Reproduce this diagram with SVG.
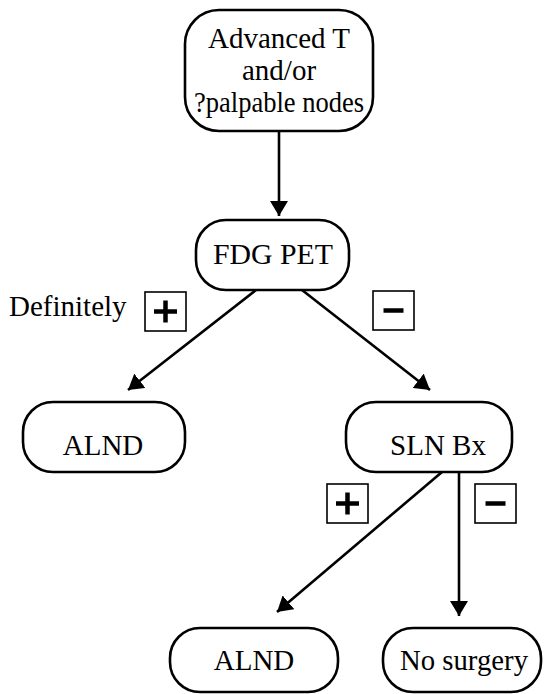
<svg xmlns="http://www.w3.org/2000/svg" width="546" height="694" viewBox="0 0 546 694">
<defs>
<style>
.box{fill:#fff;stroke:#000;stroke-width:2.6}
.sign{fill:#fff;stroke:#000;stroke-width:1.6}
.mark{stroke:#000;stroke-width:4.5;fill:none}
.edge{stroke:#000;stroke-width:2.6;fill:none}
</style>
<marker id="ah" viewBox="0 0 15 18" refX="15" refY="9" markerWidth="15" markerHeight="18" markerUnits="userSpaceOnUse" orient="auto">
<path d="M0,0 L15,9 L0,18 z" fill="#000"/>
</marker>
</defs>
<rect width="546" height="694" fill="#fff"/>
<g id="connectors">
<line class="edge" x1="279" y1="131" x2="279" y2="216" marker-end="url(#ah)"/>
<line class="edge" x1="256" y1="290" x2="128" y2="390" marker-end="url(#ah)"/>
<line class="edge" x1="302" y1="290" x2="430" y2="390" marker-end="url(#ah)"/>
<line class="edge" x1="442" y1="472" x2="277" y2="612" marker-end="url(#ah)"/>
<line class="edge" x1="459" y1="472" x2="459" y2="616" marker-end="url(#ah)"/>
</g>
<g font-family="Liberation Serif, Times New Roman, serif" font-size="29" fill="#000">
<g id="node-advanced">
<rect class="box" x="185" y="10" width="188" height="121" rx="34"/>
<text text-anchor="middle" x="279" y="48">Advanced T</text>
<text text-anchor="middle" x="279" y="80">and/or</text>
<text text-anchor="middle" x="279" y="112" textLength="170" lengthAdjust="spacingAndGlyphs">?palpable nodes</text>
</g>
<g id="node-fdgpet">
<rect class="box" x="196" y="220" width="153" height="70" rx="30"/>
<text text-anchor="middle" x="273" y="264" textLength="120" lengthAdjust="spacingAndGlyphs">FDG PET</text>
</g>
<g id="label-definitely">
<text x="9" y="316">Definitely</text>
<rect class="sign" x="145" y="292" width="41" height="39"/>
<path class="mark" d="M154,311.5 H177 M165.5,300.5 V322.5"/>
</g>
<g id="label-minus1">
<rect class="sign" x="373" y="291" width="41" height="39"/>
<path class="mark" d="M383.5,310.5 H403.5"/>
</g>
<g id="node-alnd1">
<rect class="box" x="23" y="402" width="162" height="70" rx="30"/>
<text text-anchor="middle" x="103" y="455">ALND</text>
</g>
<g id="node-slnbx">
<rect class="box" x="346" y="402" width="166" height="70" rx="30"/>
<text text-anchor="middle" x="438" y="455">SLN Bx</text>
</g>
<g id="label-plus2">
<rect class="sign" x="327" y="484" width="41" height="39"/>
<path class="mark" d="M336,503.5 H359 M347.5,492.5 V514.5"/>
</g>
<g id="label-minus2">
<rect class="sign" x="475" y="484" width="41" height="39"/>
<path class="mark" d="M485.5,503.5 H505.5"/>
</g>
<g id="node-alnd2">
<rect class="box" x="170" y="628" width="168" height="64" rx="30"/>
<text text-anchor="middle" x="254" y="670">ALND</text>
</g>
<g id="node-nosurgery">
<rect class="box" x="383" y="628" width="158" height="64" rx="30"/>
<text text-anchor="middle" x="464" y="670" textLength="128" lengthAdjust="spacingAndGlyphs">No surgery</text>
</g>
</g>
</svg>
